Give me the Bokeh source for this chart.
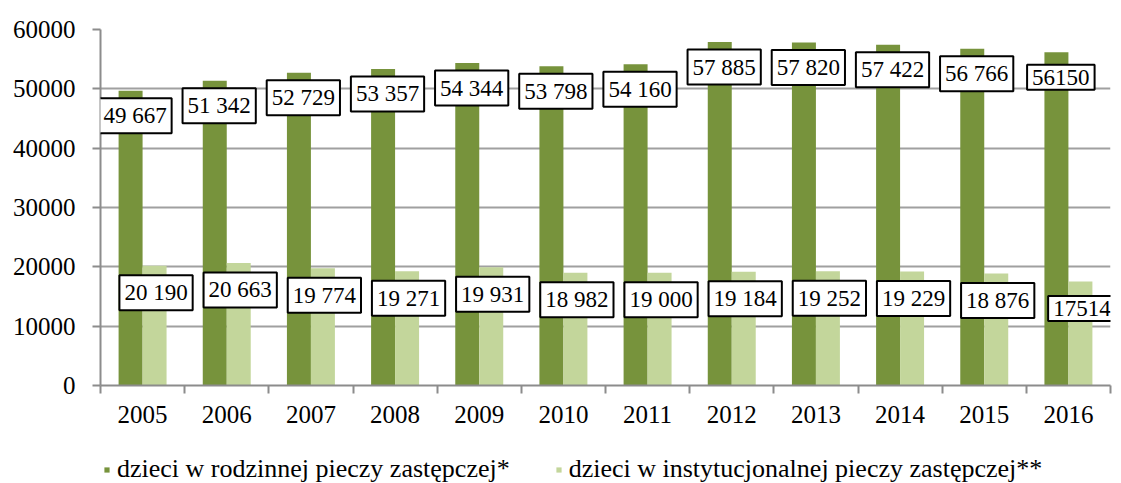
import numpy as np
from bokeh.plotting import figure
from bokeh.layouts import column
from bokeh.models import (ColumnDataSource, Label, Legend, LegendItem,
                          FixedTicker, Range1d)
from bokeh.transform import dodge
from bokeh.embed import file_html
from bokeh.resources import INLINE

years = ["2005", "2006", "2007", "2008", "2009", "2010",
         "2011", "2012", "2013", "2014", "2015", "2016"]
family = [49667, 51342, 52729, 53357, 54344, 53798,
          54160, 57885, 57820, 57422, 56766, 56150]
institution = [20190, 20663, 19774, 19271, 19931, 18982,
               19000, 19184, 19252, 19229, 18876, 17514]
family_labels = ["49 667", "51 342", "52 729", "53 357", "54 344", "53 798",
                 "54 160", "57 885", "57 820", "57 422", "56 766", "56150"]
institution_labels = ["20 190", "20 663", "19 774", "19 271", "19 931", "18 982",
                      "19 000", "19 184", "19 252", "19 229", "18 876", "17514"]
series_names = ["dzieci w rodzinnej pieczy zastępczej*",
                "dzieci w instytucjonalnej pieczy zastępczej**"]
y_ticks = [0, 10000, 20000, 30000, 40000, 50000, 60000]

DARK = "#77933C"
LIGHT = "#C3D69B"
FONT = "Liberation Serif"

xc = np.arange(len(years)) + 0.5
src = ColumnDataSource(dict(x=xc, fam=family, inst=institution))

p = figure(width=1113, height=440, output_backend="svg", toolbar_location=None,
           x_range=Range1d(0, len(years)), y_range=Range1d(0, 60000),
           min_border_left=100, min_border_right=3, min_border_top=29,
           min_border_bottom=55, outline_line_color=None)

bw = 0.285
r1 = p.vbar(x=dodge("x", -bw / 2), top="fam", width=bw, source=src,
            fill_color=DARK, line_color=None)
r2 = p.vbar(x=dodge("x", bw / 2), top="inst", width=bw, source=src,
            fill_color=LIGHT, line_color=None)

common = dict(text_font=FONT, text_font_size="23px", text_color="black",
              text_align="center", text_baseline="middle",
              background_fill_color="white", border_line_color="black",
              border_line_width=2, padding=5)
for xi, v, t in zip(xc, family, family_labels):
    p.add_layout(Label(x=xi - 0.09, y=v, text=t, y_offset=-25, **common))
for xi, v, t in zip(xc, institution, institution_labels):
    p.add_layout(Label(x=xi + 0.16, y=v, text=t, y_offset=-27, **common))

# axes
p.yaxis.ticker = FixedTicker(ticks=y_ticks)
p.yaxis.major_label_overrides = {t: str(t) for t in y_ticks}
p.yaxis.minor_tick_line_color = None
p.yaxis.major_tick_in = 0
p.yaxis.major_tick_out = 8
p.yaxis.major_label_standoff = 17
p.yaxis.axis_line_color = "#8C8C8C"
p.yaxis.major_tick_line_color = "#8C8C8C"
p.yaxis.axis_line_width = 2
p.yaxis.major_tick_line_width = 2

p.xaxis.ticker = FixedTicker(ticks=list(xc),
                             minor_ticks=list(np.arange(len(years) + 1)))
p.xaxis.major_label_overrides = {float(x): y for x, y in zip(xc, years)}
p.xaxis.major_tick_out = 0
p.xaxis.major_tick_in = 0
p.xaxis.minor_tick_out = 8
p.xaxis.minor_tick_in = 0
p.xaxis.minor_tick_line_color = "#8C8C8C"
p.xaxis.minor_tick_line_width = 2
p.xaxis.axis_line_color = "#8C8C8C"
p.xaxis.axis_line_width = 2
p.xaxis.major_label_standoff = 12

for ax in (p.xaxis, p.yaxis):
    ax.major_label_text_font = FONT
    ax.major_label_text_font_size = "25px"
    ax.major_label_text_color = "black"

p.xgrid.grid_line_color = None
p.ygrid.ticker = FixedTicker(ticks=y_ticks)
p.ygrid.grid_line_color = "#A0A0A0"
p.ygrid.grid_line_width = 2

# legend strip below the chart (its markers fall outside its visible range)
p2 = figure(width=1113, height=43, output_backend="svg", toolbar_location=None,
            x_axis_type=None, y_axis_type=None, outline_line_color=None,
            min_border=0, x_range=Range1d(100, 101), y_range=Range1d(0, 1))
p2.grid.visible = False
d1 = p2.scatter(x="x", y="fam", source=src, marker="square", size=13,
                fill_color=DARK, line_color=None)
d2 = p2.scatter(x="x", y="inst", source=src, marker="square", size=13,
                fill_color=LIGHT, line_color=None)

legend = Legend(items=[LegendItem(label=series_names[0], renderers=[d1]),
                       LegendItem(label=series_names[1], renderers=[d2])],
                orientation="horizontal", location=(0, -1),
                label_text_font=FONT, label_text_font_size="26px",
                label_text_color="black", glyph_width=13, glyph_height=13,
                label_standoff=4, spacing=42, padding=0, margin=0,
                border_line_color=None, background_fill_alpha=0,
                label_height=22)
p2.add_layout(legend, "center")

layout = column(p, p2, spacing=0)
open("out.html", "w").write(file_html(layout, INLINE))
